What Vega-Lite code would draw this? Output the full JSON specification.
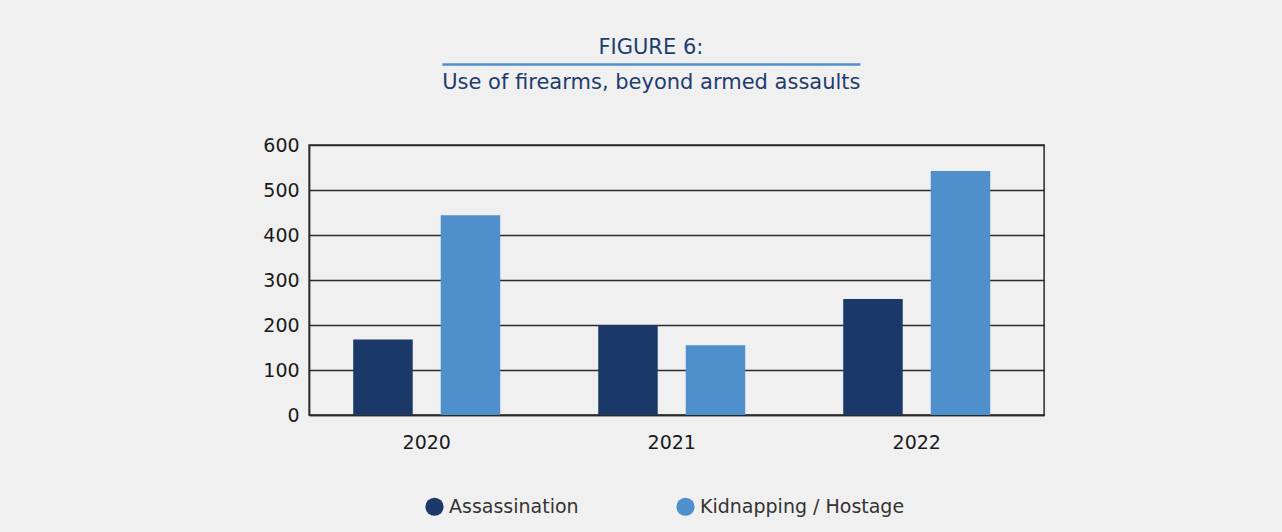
{
  "$schema": "https://vega.github.io/schema/vega-lite/v6.json",
  "background": "#f0f0f0",
  "padding": {"left": 262, "top": 37, "right": 238, "bottom": 20},
  "config": {"font": "DejaVu Sans", "view": {"stroke": null}},
  "data": {"values": [
    {"year": "2020", "series": "Assassination", "value": 168},
    {"year": "2020", "series": "Kidnapping / Hostage", "value": 444},
    {"year": "2021", "series": "Assassination", "value": 200},
    {"year": "2021", "series": "Kidnapping / Hostage", "value": 155},
    {"year": "2022", "series": "Assassination", "value": 258},
    {"year": "2022", "series": "Kidnapping / Hostage", "value": 542}
  ]},
  "center": true,
  "spacing": 43,
  "vconcat": [
    {
      "width": 418,
      "height": 1,
      "title": {"text": "FIGURE 6:", "fontSize": 21, "fontWeight": "normal", "color": "#1f3d6e", "offset": -4},
      "mark": {"type": "point", "opacity": 0},
      "encoding": {
        "x": {"field": "value", "type": "quantitative", "axis": {"domainColor": "#4f8fcc", "domainWidth": 2.5, "labels": false, "ticks": false, "grid": false, "title": "Use of firearms, beyond armed assaults", "titleFontSize": 21, "titleFontWeight": "normal", "titleColor": "#1f3d6e", "titlePadding": 7}},
        "y": {"field": "value", "type": "quantitative", "scale": {"domain": [0, 600]}, "axis": {"orient": "right", "values": [600], "domain": false, "ticks": false, "grid": false, "title": null, "labelFontSize": 19, "labelColor": "transparent", "labelPadding": 16}}
      }
    },
    {
      "width": 735,
      "height": 270,
      "view": {"stroke": "#2a2a2a", "strokeWidth": 1.5},
      "mark": {"type": "bar"},
      "encoding": {
        "x": {"field": "year", "type": "nominal", "scale": {"paddingInner": 0.4, "paddingOuter": 0.2, "align": 0.45},
          "axis": {"labelAngle": 0, "title": null, "ticks": false, "domainColor": "#2a2a2a", "domainWidth": 1.5, "labelFontSize": 19, "labelColor": "#1a1a1a", "labelPadding": 18}},
        "xOffset": {"field": "series", "type": "nominal", "scale": {"paddingInner": 0.32}},
        "y": {"field": "value", "type": "quantitative", "scale": {"domain": [0, 600]},
          "axis": {"values": [0, 100, 200, 300, 400, 500, 600], "grid": true, "gridColor": "#2a2a2a", "gridWidth": 1.5, "ticks": false, "domainColor": "#2a2a2a", "domainWidth": 1.5, "labelFontSize": 19, "labelColor": "#1a1a1a", "labelPadding": 10, "title": null}},
        "color": {"field": "series", "type": "nominal",
          "scale": {"domain": ["Assassination", "Kidnapping / Hostage"], "range": ["#1b3968", "#4f8fcc"]},
          "legend": {"orient": "none", "legendX": 116, "legendY": 434, "direction": "horizontal", "title": null, "symbolType": "circle", "symbolSize": 330, "symbolOpacity": 1, "symbolStrokeWidth": 0, "labelFontSize": 19, "labelLimit": 400, "labelColor": "#333333", "columnPadding": 97, "labelOffset": 5}}
      }
    }
  ]
}
